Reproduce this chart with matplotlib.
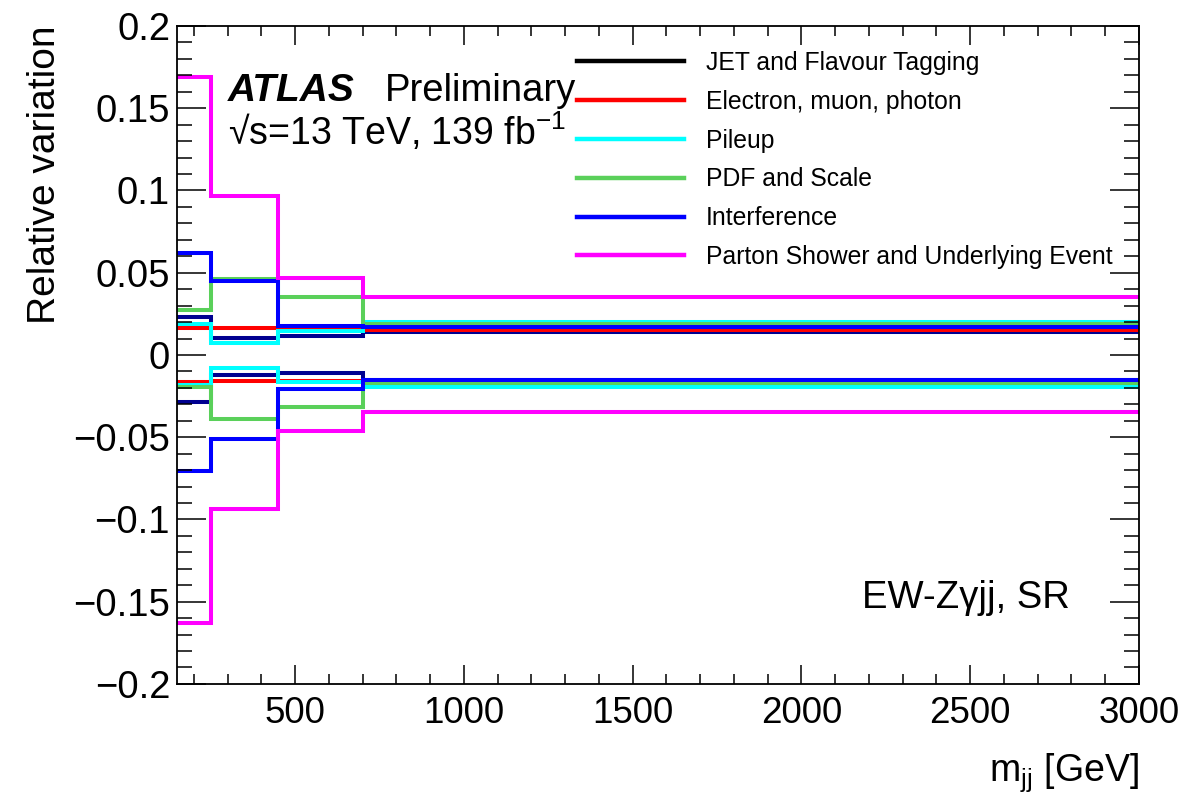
import numpy as np
import matplotlib
matplotlib.use("Agg")
import matplotlib.pyplot as plt
from matplotlib.ticker import MultipleLocator, FuncFormatter
from matplotlib.lines import Line2D

plt.rcParams['font.family'] = ['Liberation Sans', 'DejaVu Sans']
plt.rcParams['mathtext.fontset'] = 'custom'
plt.rcParams['mathtext.rm'] = 'Liberation Sans'
plt.rcParams['mathtext.it'] = 'Liberation Sans:italic'

# m_jj bin edges [GeV]
edges = [150, 250, 450, 700, 3000]

# relative up / down variations per bin
jet_up = [0.0228, 0.0103, 0.0113, 0.0137]
jet_dn = [-0.0284, -0.0122, -0.0112, -0.0152]
lep_up = [0.0162, 0.0162, 0.0155, 0.0152]
lep_dn = [-0.0162, -0.0160, -0.0160, -0.0160]
pu_up = [0.0188, 0.0073, 0.0145, 0.0200]
pu_dn = [-0.0180, -0.0079, -0.0165, -0.0197]
pdf_up = [0.0275, 0.0460, 0.0352, 0.0190]
pdf_dn = [-0.0192, -0.0387, -0.0314, -0.0172]
int_up = [0.0620, 0.0447, 0.0176, 0.0168]
int_dn = [-0.0703, -0.0510, -0.0206, -0.0152]
ps_up = [0.1687, 0.0964, 0.0468, 0.0354]
ps_dn = [-0.1630, -0.0936, -0.0460, -0.0345]

labels = ["JET and Flavour Tagging", "Electron, muon, photon", "Pileup",
          "PDF and Scale", "Interference",
          "Parton Shower and Underlying Event"]
line_colors = ["#000090", "#ff0000", "#00ffff", "#5ad05a", "#0000ff", "#ff00ff"]
legend_colors = ["#000000", "#ff0000", "#00ffff", "#5ad05a", "#0000ff", "#ff00ff"]

ups = [jet_up, lep_up, pu_up, pdf_up, int_up, ps_up]
dns = [jet_dn, lep_dn, pu_dn, pdf_dn, int_dn, ps_dn]

fig = plt.figure(figsize=(11.84, 7.99), dpi=100)
ax = fig.add_axes([0.1495, 0.144, 0.8125, 0.8235])

for up, dn, c in zip(ups, dns, line_colors):
    ax.stairs(up, edges, baseline=None, color=c, linewidth=2.9)
    ax.stairs(dn, edges, baseline=None, color=c, linewidth=2.9)

ax.set_xlim(150, 3000)
ax.set_ylim(-0.2, 0.2)

ax.xaxis.set_major_locator(MultipleLocator(500))
ax.xaxis.set_minor_locator(MultipleLocator(100))
ax.yaxis.set_major_locator(MultipleLocator(0.05))
ax.yaxis.set_minor_locator(MultipleLocator(0.01))
ax.yaxis.set_major_formatter(FuncFormatter(lambda v, p: ('%g' % round(v, 3)).replace('-', '\u2212')))

ax.tick_params(which='both', direction='in', top=True, right=True, width=1.1)
ax.tick_params(axis='y', which='major', length=21, labelsize=27.5, pad=5)
ax.tick_params(axis='y', which='minor', length=10.5)
ax.tick_params(axis='x', which='major', length=14, labelsize=26.5, pad=9)
ax.tick_params(axis='x', which='minor', length=7)
for s in ax.spines.values():
    s.set_linewidth(1.3)

ax.set_ylabel("Relative variation", fontsize=28, loc='top')
ax.yaxis.set_label_coords(-0.119, 1.0)
ax.set_xlabel("m$_{\\rm jj}$ [GeV]", fontsize=27, loc='right')
ax.xaxis.set_label_coords(1.0, -0.103)

ax.text(0.053, 0.886, "ATLAS", transform=ax.transAxes, fontsize=28,
        fontweight='bold', style='italic', va='baseline')
ax.text(0.216, 0.886, "Preliminary", transform=ax.transAxes, fontsize=27.5,
        va='baseline')
ax.text(0.053, 0.819, "\u221as=13 TeV, 139 fb$^{-1}$", transform=ax.transAxes,
        fontsize=27, va='baseline')
ax.text(0.712, 0.1155, "EW-Z\u03b3jj, SR", transform=ax.transAxes, fontsize=27.5,
        va='baseline')

handles = [Line2D([], [], color=c, linewidth=3.2) for c in legend_colors]
ax.legend(handles, labels, loc='upper left', bbox_to_anchor=(0.416, 0.962),
          frameon=False, fontsize=17.8, handlelength=4.33, handletextpad=0.89,
          labelspacing=0.6, borderpad=0, borderaxespad=0)

fig.savefig("out.png", dpi=100)
